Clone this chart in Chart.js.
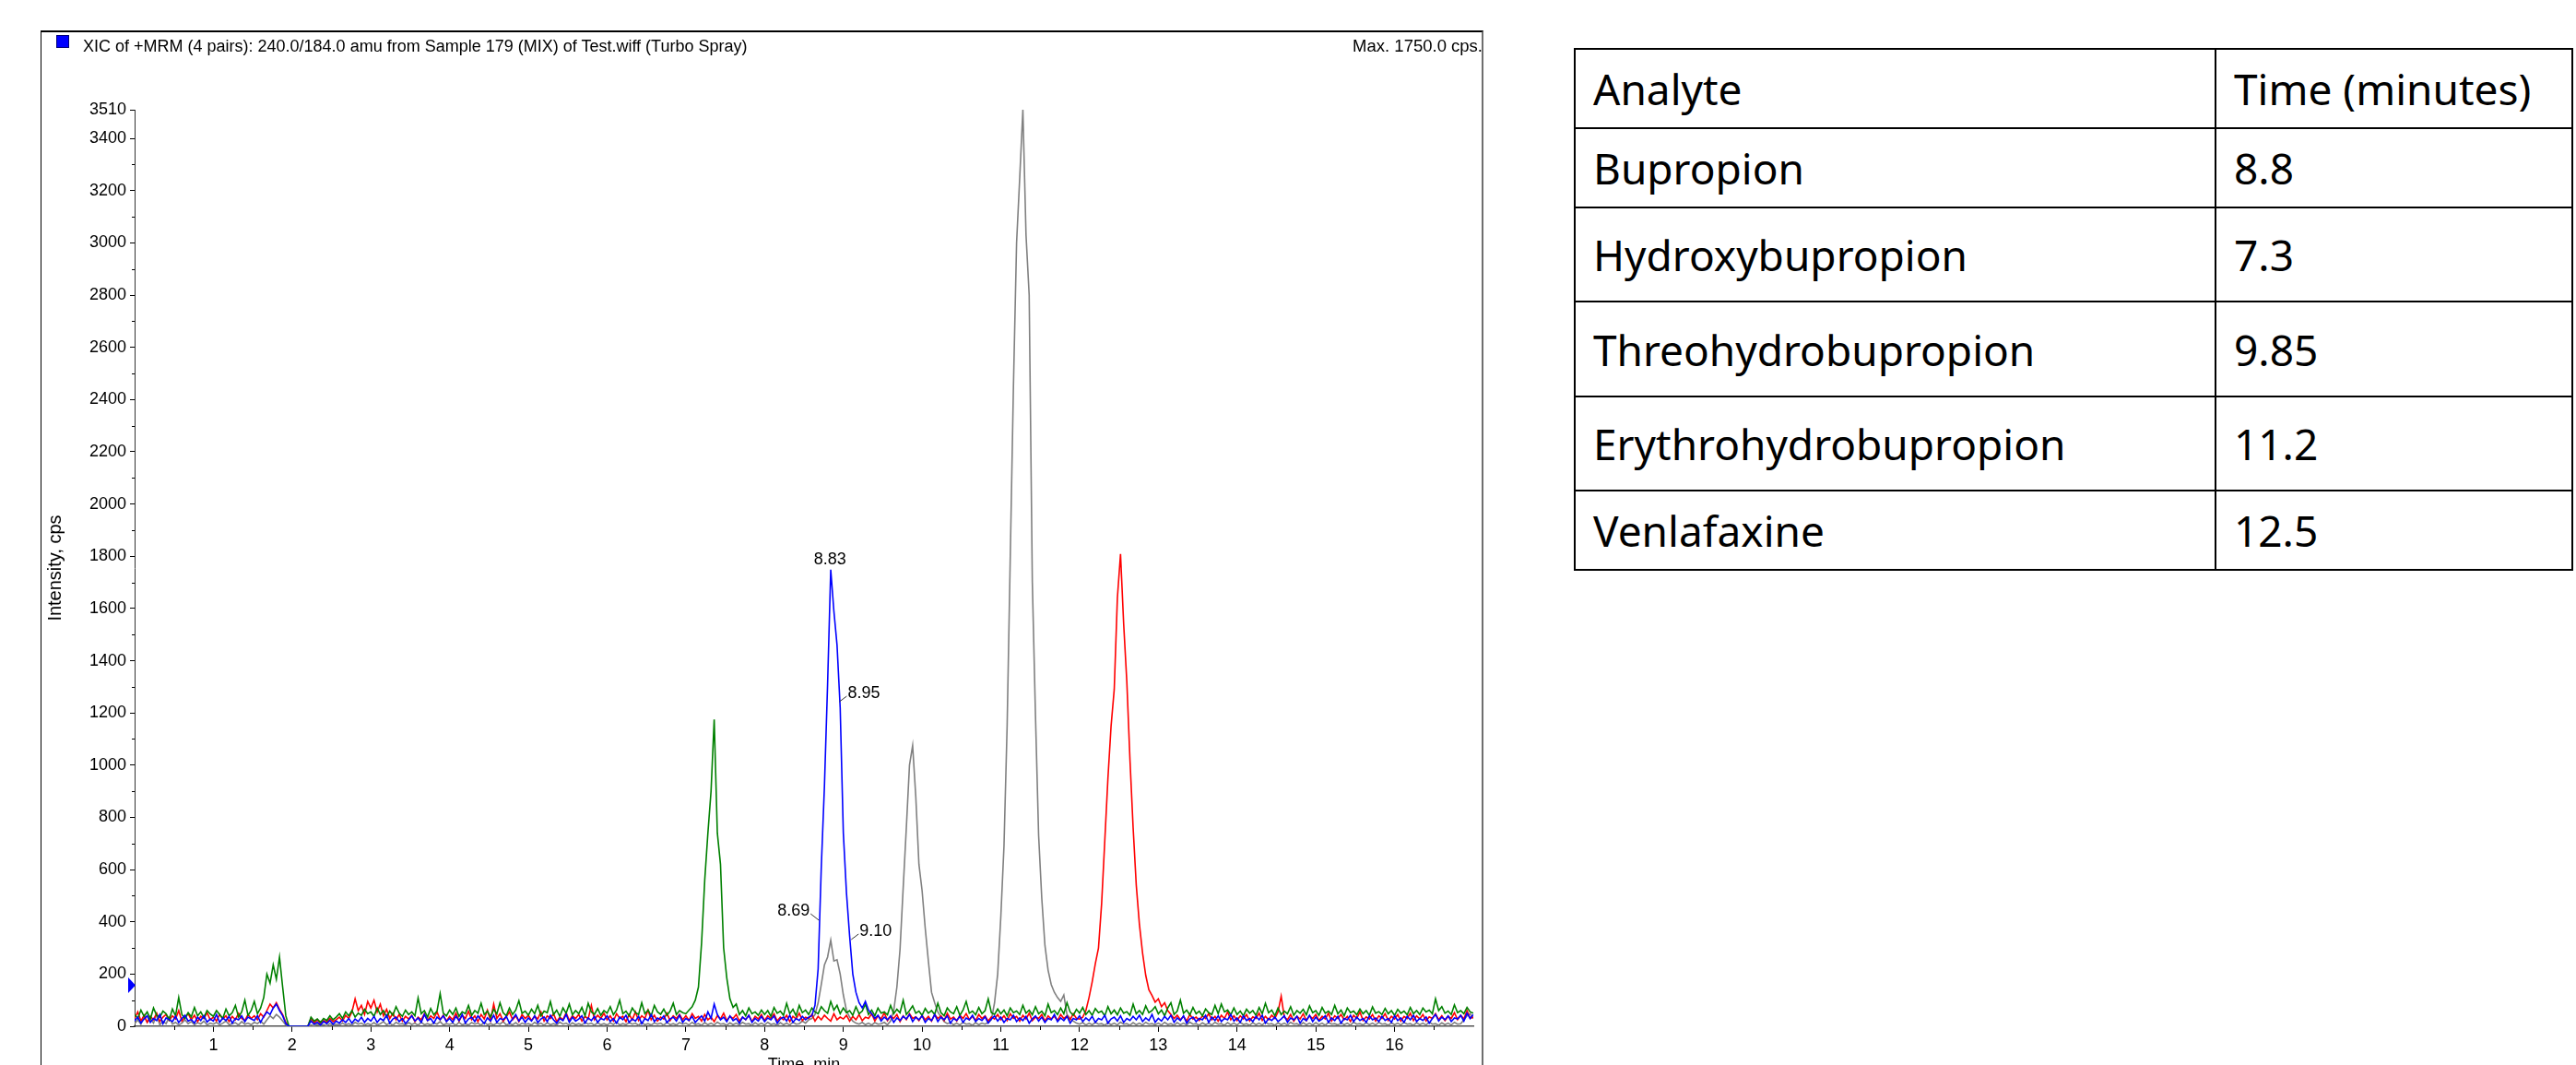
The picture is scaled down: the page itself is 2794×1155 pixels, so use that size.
<!DOCTYPE html>
<html>
<head>
<meta charset="utf-8">
<title>XIC chromatogram</title>
<script src="https://cdn.jsdelivr.net/npm/chart.js@4.4.1/dist/chart.umd.min.js"></script>
<style>
html,body{margin:0;padding:0;background:#fff;}
body{width:2794px;height:1155px;overflow:hidden;position:relative;font-family:"Liberation Sans",Arial,sans-serif;}
#frame{position:absolute;left:44px;top:33px;width:1565px;height:1200px;box-sizing:border-box;border-left:1.5px solid #000;border-top:2px solid #000;border-right:2px solid #6e6e6e;}
#chart{position:absolute;left:0;top:0;}
#swatch{position:absolute;left:61px;top:38px;width:14px;height:14px;background:#0000ff;box-sizing:border-box;border:1px solid #00007a;}
#title{position:absolute;left:90px;top:41px;font-size:18px;line-height:18px;white-space:nowrap;color:#000;}
#maxnote{position:absolute;right:1186px;top:41px;font-size:18.5px;line-height:18px;white-space:nowrap;color:#000;}
#rt{position:absolute;left:1707px;top:52px;width:1084px;table-layout:fixed;border-collapse:collapse;font-family:"Noto Sans",sans-serif;font-size:46px;color:#000;}
#rt td{border:2.5px solid #000;padding:0 0 0 19px;vertical-align:middle;line-height:1;white-space:nowrap;}
#rt tr:nth-child(1){height:86px;}
#rt tr:nth-child(2){height:86px;}
#rt tr:nth-child(3){height:102px;}
#rt tr:nth-child(4){height:103px;}
#rt tr:nth-child(5){height:102px;}
#rt tr:nth-child(6){height:86px;}
</style>
</head>
<body>
<div id="frame"></div>
<canvas id="chart" width="1620" height="1180"></canvas>
<div id="swatch"></div>
<div id="title">XIC of +MRM (4 pairs): 240.0/184.0 amu from Sample 179 (MIX) of Test.wiff (Turbo Spray)</div>
<div id="maxnote">Max. 1750.0 cps.</div>
<table id="rt"><colgroup><col style="width:695px"><col></colgroup><tbody></tbody></table>
<script>
// ---- data (one value every 0.04 min, starting at 0.00 min; one line per minute) ----
const scanInterval = 0.04;

// blue trace: 240.0/184.0 (Bupropion)
const bupropion = [
20,35,12,28,40,15,30,22,45,10,32,25,18,38,14,30,42,20,26,12,35,22,40,16,28,
20,45,15,32,22,38,12,30,25,40,18,35,28,22,40,15,38,55,45,70,85,60,40,10,0,
0,0,0,0,0,0,20,8,15,5,18,10,22,8,20,12,25,15,30,12,28,18,35,15,30,
20,38,15,30,22,42,12,28,35,18,30,10,25,40,20,32,15,45,22,30,12,35,25,40,18,
30,15,38,22,45,12,28,35,18,40,25,10,32,20,42,15,30,25,38,12,28,45,20,35,15,
32,20,40,14,28,36,18,42,25,12,30,22,45,15,35,20,28,40,12,32,22,38,15,30,25,
40,18,30,12,35,25,42,15,28,20,38,10,30,22,45,18,32,25,40,14,28,35,20,42,15,
30,22,38,15,28,40,20,55,30,85,45,25,35,18,40,22,30,12,35,25,42,15,30,20,38,
18,32,25,40,12,28,35,20,42,15,30,22,38,25,35,40,80,220,610,920,1310,1749,1590,1460,1220,
740,510,345,200,130,90,70,95,62,48,30,42,20,35,25,40,15,32,22,38,28,45,18,35,25,
40,15,30,22,45,18,35,25,40,12,30,22,38,15,32,25,42,18,30,22,36,12,28,40,20,
35,15,30,25,42,18,32,22,38,12,28,40,20,35,15,30,25,45,18,32,22,38,12,30,25,
40,18,32,22,38,15,30,25,42,12,28,35,20,40,15,30,22,38,25,42,18,32,22,45,15,
30,20,38,25,42,15,32,22,40,12,28,35,18,30,25,42,15,35,22,40,18,30,25,45,20,
32,15,40,22,30,18,38,25,42,12,30,22,35,18,28,40,15,32,25,38,12,30,22,42,18,
35,20,28,40,15,32,22,38,12,30,25,42,18,35,22,30,15,40,25,32,18,38,22,30,15,
40,22,32,15,38,25,42,18,30,22,36,12,30,45,20,35,25,40,18,32,28,42,20,50,30,45
];

// green trace: Hydroxybupropion
const hydroxybupropion = [
45,30,62,38,55,28,70,42,35,58,48,25,66,40,110,45,30,52,36,72,40,55,33,60,47,
38,60,45,30,66,40,52,80,35,55,100,42,60,95,48,70,110,200,165,235,180,265,150,40,0,
0,0,0,0,0,0,35,20,28,15,30,22,40,25,35,48,30,55,40,60,35,50,42,65,48,
55,38,70,45,60,35,58,42,75,50,38,62,45,55,40,108,48,60,35,68,44,58,125,50,40,
62,45,70,38,55,48,80,42,60,50,88,45,58,36,65,48,90,52,40,70,45,62,98,50,58,
42,65,48,80,40,58,52,95,45,62,38,70,50,85,44,60,48,72,40,88,55,46,68,42,60,
50,75,44,62,100,48,58,40,70,52,45,90,48,62,40,80,55,46,66,42,58,88,45,60,52,
48,62,75,100,150,320,560,740,900,1175,740,620,300,185,105,72,85,45,60,40,70,48,55,42,62,
45,60,38,72,50,58,42,88,48,65,40,80,52,62,45,70,55,48,75,60,50,95,62,80,48,
70,52,60,42,75,48,58,85,45,62,40,70,50,55,44,80,48,65,52,100,45,60,78,50,58,
42,68,50,60,45,88,52,40,70,55,48,75,42,62,95,50,58,44,72,48,60,105,52,45,66,
48,62,40,70,52,58,45,80,50,62,44,75,48,58,40,85,52,60,45,70,48,90,55,42,65,
50,72,45,60,42,68,52,58,40,75,48,62,44,70,50,56,42,85,48,60,45,78,52,60,75,
48,62,40,70,90,45,58,100,50,62,44,72,48,58,40,66,52,45,80,48,85,55,62,44,70,
45,58,40,65,50,60,42,72,48,88,52,62,40,70,45,58,48,75,42,60,50,65,44,78,52,
60,42,72,50,58,45,80,48,62,40,70,52,58,44,66,48,60,42,74,50,56,45,68,48,60,
42,65,50,58,44,72,48,60,45,70,55,62,48,105,60,75,50,58,45,82,52,60,48,72,55,50
];

// red trace: Venlafaxine
const venlafaxine = [
30,55,20,42,15,38,25,50,18,35,45,22,40,28,60,20,35,48,25,42,18,38,30,52,25,
35,20,45,28,40,18,38,25,50,30,22,45,30,40,25,48,35,60,85,70,90,65,45,15,0,
0,0,0,0,0,0,30,12,25,10,22,15,30,18,25,35,20,42,30,55,105,60,80,45,95,
70,100,55,85,40,65,30,50,25,45,20,38,28,42,18,35,25,48,22,40,30,55,25,42,20,
38,25,50,20,42,30,58,25,40,18,45,28,62,22,85,30,48,20,36,55,25,40,18,45,30,
42,22,38,28,55,20,40,30,48,18,35,25,52,22,40,30,45,20,38,28,80,25,42,30,50,
25,40,20,48,30,38,18,45,25,55,22,40,30,62,25,42,20,35,28,50,22,40,30,45,25,
40,22,48,30,38,20,45,25,35,18,40,28,50,22,38,30,45,20,35,25,42,18,38,28,45,
22,40,30,48,20,35,25,42,18,38,28,50,22,35,30,45,20,38,25,42,30,20,48,25,35,
28,42,20,38,25,45,22,35,30,48,20,40,28,52,22,38,30,45,18,40,25,48,30,36,22,
42,25,38,20,45,30,40,22,50,28,35,20,42,30,48,25,38,22,45,30,40,20,36,28,45,
25,40,22,48,30,38,20,42,28,50,22,35,30,45,20,40,28,38,22,45,30,40,25,48,30,
28,35,60,110,170,240,300,470,710,950,1150,1290,1640,1809,1540,1320,1020,760,540,390,280,195,140,118,92,
105,75,90,60,45,30,42,25,38,20,45,28,35,22,40,30,48,25,38,20,42,30,55,25,40,
22,40,28,45,20,36,30,50,22,38,25,42,30,55,115,35,25,45,20,38,28,48,22,40,30,
45,22,38,28,50,20,40,30,45,25,38,18,42,30,55,22,36,28,45,20,40,30,48,22,38,
28,45,20,38,30,50,22,40,28,45,20,36,30,48,25,40,22,38,30,52,25,42,28,60,30,35
];

// gray trace: Threo- / Erythro-hydrobupropion
const hydrobupropions = [
10,25,8,40,15,30,12,45,5,20,10,35,8,15,5,12,25,10,18,6,14,9,20,5,12,
8,15,5,12,20,6,10,14,5,18,8,12,6,15,10,20,8,25,40,30,45,35,20,5,0,
0,0,0,0,0,0,5,2,8,3,6,2,10,4,8,5,12,6,10,4,15,8,12,5,10,
6,14,5,10,18,6,12,4,15,8,10,5,14,7,12,4,16,6,10,5,13,8,18,5,10,
7,12,4,15,6,10,5,14,8,12,4,16,6,10,5,13,8,18,5,10,6,14,4,12,7,
10,5,15,7,12,4,14,6,10,5,16,8,12,4,13,6,10,5,15,8,12,4,14,6,10,
5,13,7,16,5,10,6,14,8,12,4,15,6,10,5,13,8,12,4,16,6,10,5,14,8,
12,5,15,7,10,4,14,6,12,5,16,8,10,4,13,6,12,5,15,8,10,4,14,6,12,
5,15,7,10,4,14,6,12,5,16,8,10,20,12,25,30,45,90,160,235,265,330,250,255,200,
120,60,35,20,12,8,15,6,12,5,14,8,10,15,6,20,60,150,295,530,760,1000,1075,880,620,
520,375,250,130,90,55,35,18,10,14,6,12,5,15,8,10,4,14,6,12,8,15,25,90,200,
420,690,1150,1800,2450,3000,3250,3510,3030,2800,1700,1190,730,490,310,215,160,130,110,95,120,45,30,20,12,
8,14,5,12,6,15,8,10,4,13,6,12,5,16,8,10,4,14,6,12,5,15,8,10,6,
12,5,15,7,10,4,14,6,12,5,16,8,10,4,13,6,12,5,15,8,10,4,14,6,12,
5,15,7,10,4,14,6,12,5,16,8,10,4,13,6,12,5,15,8,10,4,14,6,12,5,
14,6,12,4,15,8,10,5,13,6,12,4,16,8,10,5,14,6,12,5,15,8,10,4,13,
6,12,5,15,8,10,4,14,6,12,5,16,8,10,4,13,6,12,5,15,8,10,25,40,48,30
];

// axes
const xTickValues = [1,2,3,4,5,6,7,8,9,10,11,12,13,14,15,16];
const xMinorTicks = [0.5,1.5,2.5,3.5,4.5,5.5,6.5,7.5,8.5,9.5,10.5,11.5,12.5,13.5,14.5,15.5,16.5];
const yTickValues = [0,200,400,600,800,1000,1200,1400,1600,1800,2000,2200,2400,2600,2800,3000,3200,3400,3510];
const yMinorTicks = [100,300,500,700,900,1100,1300,1500,1700,1900,2100,2300,2500,2700,2900,3100,3300];

// peak annotations on the blue trace
const peakLabelTexts = ['8.83','8.95','8.69','9.10'];
const peakLabelTimes = [8.83, 8.95, 8.69, 9.10];
const peakLabelLevels = [1749, 1243, 406, 332];
const thresholdLevel = 157;

// retention time table
const analytes = ['Bupropion','Hydroxybupropion','Threohydrobupropion','Erythrohydrobupropion','Venlafaxine'];
const retentionTimes = ['8.8','7.3','9.85','11.2','12.5'];

// ---- table ----
const tbody = document.querySelector('#rt tbody');
const addRow = (a, b) => {
  const tr = document.createElement('tr');
  [a, b].forEach(t => { const td = document.createElement('td'); td.textContent = t; tr.appendChild(td); });
  tbody.appendChild(tr);
};
addRow('Analyte', 'Time (minutes)');
analytes.forEach((a, i) => addRow(a, retentionTimes[i]));

// ---- chart ----
const toPoints = vals => vals.map((v, i) => ({x: Math.round(i * scanInterval * 100) / 100, y: v}));
const FONT = '"Liberation Sans", Arial, sans-serif';
Chart.defaults.font.family = FONT;
Chart.defaults.color = '#000';

const labelStyle = ['top', 'right', 'left', 'right'];

const overlayPlugin = {
  id: 'overlay',
  afterDraw(chart) {
    const {ctx, chartArea, scales} = chart;
    const x = scales.x, y = scales.y;
    ctx.save();
    // minor ticks
    ctx.strokeStyle = '#000';
    ctx.lineWidth = 1;
    ctx.beginPath();
    xMinorTicks.forEach(v => {
      const px = Math.round(x.getPixelForValue(v)) + 0.5;
      ctx.moveTo(px, chartArea.bottom);
      ctx.lineTo(px, chartArea.bottom + 4);
    });
    yMinorTicks.forEach(v => {
      const py = Math.round(y.getPixelForValue(v)) + 0.5;
      ctx.moveTo(chartArea.left - 3, py);
      ctx.lineTo(chartArea.left, py);
    });
    ctx.stroke();
    // threshold marker
    const ty = y.getPixelForValue(thresholdLevel);
    ctx.fillStyle = '#0000ff';
    ctx.beginPath();
    ctx.moveTo(chartArea.left - 7, ty - 8.5);
    ctx.lineTo(chartArea.left + 1, ty);
    ctx.lineTo(chartArea.left - 7, ty + 8.5);
    ctx.closePath();
    ctx.fill();
    // peak labels
    ctx.font = '18px ' + FONT;
    ctx.fillStyle = '#000';
    ctx.strokeStyle = '#333';
    ctx.lineWidth = 1;
    peakLabelTimes.forEach((t, i) => {
      const ax = x.getPixelForValue(t);
      const ay = y.getPixelForValue(peakLabelLevels[i]);
      const side = labelStyle[i];
      if (side === 'top') {
        ctx.textAlign = 'center';
        ctx.textBaseline = 'alphabetic';
        ctx.fillText(peakLabelTexts[i], ax, ay - 6);
      } else if (side === 'right') {
        ctx.beginPath(); ctx.moveTo(ax, ay); ctx.lineTo(ax + 8, ay - 6); ctx.stroke();
        ctx.textAlign = 'left';
        ctx.textBaseline = 'middle';
        ctx.fillText(peakLabelTexts[i], ax + 9, ay - 9);
      } else {
        ctx.beginPath(); ctx.moveTo(ax, ay); ctx.lineTo(ax - 9, ay - 7); ctx.stroke();
        ctx.textAlign = 'right';
        ctx.textBaseline = 'middle';
        ctx.fillText(peakLabelTexts[i], ax - 10, ay - 10);
      }
    });
    ctx.restore();
  }
};

const lineDs = (label, vals, color) => ({
  label, data: toPoints(vals), borderColor: color, backgroundColor: color,
  borderWidth: 1.6, pointRadius: 0, tension: 0, fill: false
});

new Chart(document.getElementById('chart'), {
  type: 'line',
  data: {
    datasets: [
      lineDs('240.0/184.0 Bupropion', bupropion, '#0000ff'),
      lineDs('Hydroxybupropion', hydroxybupropion, '#008000'),
      lineDs('Venlafaxine', venlafaxine, '#ff0000'),
      lineDs('Threo/Erythrohydrobupropion', hydrobupropions, '#808080')
    ]
  },
  options: {
    responsive: false,
    animation: false,
    events: [],
    layout: {padding: {left: 0, top: 119, right: 22, bottom: 0}},
    plugins: {legend: {display: false}, title: {display: false}, tooltip: {enabled: false}},
    scales: {
      x: {
        type: 'linear', min: 0, max: 17,
        afterBuildTicks: s => { s.ticks = xTickValues.map(v => ({value: v})); },
        afterFit: s => { s.height = 67; s.paddingLeft = 0; s.paddingRight = 0; },
        ticks: {callback: v => String(v), font: {size: 18}, color: '#000', padding: 4, maxRotation: 0, autoSkip: false},
        grid: {drawOnChartArea: false, drawTicks: true, tickLength: 6, color: '#000'},
        border: {display: true, color: '#555', width: 1.5},
        title: {display: true, text: 'Time, min', font: {size: 18}, color: '#000', padding: {top: 0, bottom: 14.5}}
      },
      y: {
        type: 'linear', min: 0, max: 3510,
        afterBuildTicks: s => { s.ticks = yTickValues.map(v => ({value: v})); },
        afterFit: s => { s.width = 146; s.paddingTop = 0; s.paddingBottom = 0; },
        ticks: {callback: v => String(v), font: {size: 18}, color: '#000', padding: 4, autoSkip: false},
        grid: {drawOnChartArea: false, drawTicks: true, tickLength: 5, color: '#000'},
        border: {display: true, color: '#333', width: 1},
        title: {display: true, text: 'Intensity, cps', font: {size: 20}, color: '#000', padding: {top: 48, bottom: 0}}
      }
    }
  },
  plugins: [overlayPlugin]
});
</script>
</body>
</html>
